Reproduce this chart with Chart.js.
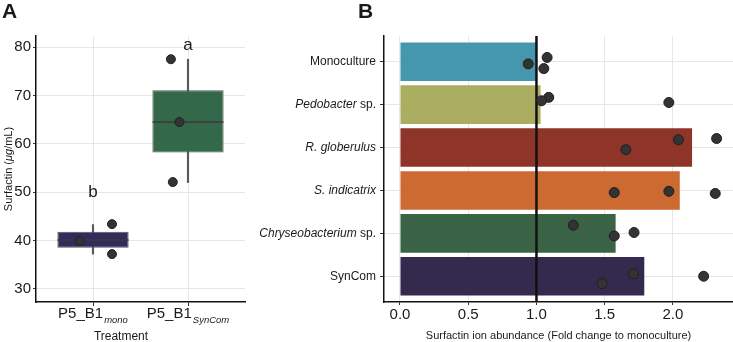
<!DOCTYPE html>
<html>
<head>
<meta charset="utf-8">
<script src="https://cdn.jsdelivr.net/npm/chart.js@4"></script>
<style>
  body { margin: 0; background: #fff; }
  #wrap { position: relative; width: 733px; height: 342px; }
  canvas { position: absolute; top: 0; }
  #chartA { left: 0; }
  #chartB { left: 250px; }
</style>
</head>
<body>
<div id="wrap">
  <canvas id="chartA" width="250" height="342"></canvas>
  <canvas id="chartB" width="483" height="342"></canvas>
</div>
<script>
// ---- panel A data (boxplot of surfactin, ug/mL) ----
const treatments = ['P5_B1', 'P5_B1'];
const treatmentSubs = ['mono', 'SynCom'];
const boxColors = ['#342a5c', '#33694a'];
const q1 = [38.5, 58.2];
const median = [40.1, 64.5];
const q3 = [41.8, 71.1];
const whiskerLow = [37.2, 52.0];
const whiskerHigh = [43.3, 77.5];
const monoPoints = [43.4, 37.2, 39.9];
const monoJitter = [0.2, 0.2, -0.14];
const syncomPoints = [77.5, 52.1, 64.5];
const syncomJitter = [-0.18, -0.16, -0.09];
const sigLetters = ['b', 'a'];
const sigHeights = [50.0, 80.4];
const yTicksA = [30, 40, 50, 60, 70, 80];

// ---- panel B data (fold change to monoculture) ----
const strains = [
  [['Monoculture', false]],
  [['Pedobacter', true], [' sp.', false]],
  [['R. globerulus', true]],
  [['S. indicatrix', true]],
  [['Chryseobacterium', true], [' sp.', false]],
  [['SynCom', false]]
];
const barColors = ['#4597ae', '#abae60', '#8e3428', '#cc6a31', '#3a6345', '#332a4d'];
const foldChange = [1.0, 1.03, 2.14, 2.05, 1.58, 1.79];
const replicateX = [
  [1.078, 0.94, 1.054],
  [1.09, 1.037, 1.97],
  [2.04, 2.32, 1.655],
  [1.57, 1.97, 2.31],
  [1.27, 1.57, 1.715],
  [1.48, 1.71, 2.225]
];
const replicateJitter = [
  [-0.10, 0.05, 0.16],
  [-0.17, -0.09, -0.05],
  [-0.18, -0.21, 0.05],
  [0.05, 0.02, 0.07],
  [-0.19, 0.06, -0.02],
  [0.17, -0.06, 0.0]
];
const xTicksB = [0, 0.5, 1.0, 1.5, 2.0];

const FONT = '"Liberation Sans", Arial, sans-serif';
const TXT = '#1a1a1a';
const GRID = '#e6e6e6';

function drawMixed(ctx, segs, x, y, size, align) {
  let total = 0;
  const widths = segs.map(function (s) {
    ctx.font = (s[1] ? 'italic ' : '') + size + 'px ' + FONT;
    const w = ctx.measureText(s[0]).width;
    total += w;
    return w;
  });
  let cx = align === 'right' ? x - total : x - total / 2;
  ctx.textAlign = 'left';
  segs.forEach(function (s, i) {
    ctx.font = (s[1] ? 'italic ' : '') + size + 'px ' + FONT;
    ctx.fillText(s[0], cx, y);
    cx += widths[i];
  });
}

function noPad(s) {
  s.paddingLeft = 0;
  s.paddingRight = 0;
  s.paddingTop = 0;
  s.paddingBottom = 0;
}

// ---------------- Panel A ----------------
const pointsA = [];
monoPoints.forEach(function (v, i) { pointsA.push({ x: 1 + monoJitter[i], y: v }); });
syncomPoints.forEach(function (v, i) { pointsA.push({ x: 2 + syncomJitter[i], y: v }); });

const panelAText = {
  id: 'panelAText',
  afterDraw: function (chart) {
    const ctx = chart.ctx;
    const xs = chart.scales.x;
    const ys = chart.scales.y;
    ctx.save();
    ctx.fillStyle = TXT;
    ctx.textBaseline = 'alphabetic';
    ctx.font = 'bold 21px ' + FONT;
    ctx.textAlign = 'left';
    ctx.fillText('A', 2, 18);

    treatments.forEach(function (t, i) {
      const px = xs.getPixelForValue(i + 1);
      ctx.font = '15px ' + FONT;
      const wm = ctx.measureText(t).width;
      ctx.font = 'italic 9.5px ' + FONT;
      const ws = ctx.measureText(treatmentSubs[i]).width;
      const start = px - (wm + ws + 1) / 2;
      ctx.textAlign = 'left';
      ctx.font = '15px ' + FONT;
      ctx.fillText(t, start, 318);
      ctx.font = 'italic 9.5px ' + FONT;
      ctx.fillText(treatmentSubs[i], start + wm + 1, 323);

      ctx.font = '17px ' + FONT;
      ctx.textAlign = 'center';
      ctx.textBaseline = 'middle';
      ctx.fillText(sigLetters[i], px, ys.getPixelForValue(sigHeights[i]));
      ctx.textBaseline = 'alphabetic';
    });

    ctx.font = '12px ' + FONT;
    ctx.textAlign = 'center';
    ctx.fillText('Treatment', 121, 340);

    ctx.translate(12, (chart.chartArea.top + chart.chartArea.bottom) / 2);
    ctx.rotate(-Math.PI / 2);
    drawMixed(ctx, [['Surfactin (', false], ['\u03bcg', true], ['/mL)', false]], 0, 0, 11, 'center');
    ctx.restore();
  }
};

new Chart(document.getElementById('chartA'), {
  type: 'bar',
  data: {
    datasets: [
      {
        type: 'scatter',
        data: pointsA,
        order: 0,
        pointRadius: 4.5,
        backgroundColor: '#333333',
        borderColor: '#222222',
        borderWidth: 1
      },
      {
        type: 'scatter',
        data: median.map(function (m, i) { return { x: i + 1, y: m }; }),
        order: 1,
        pointStyle: 'line',
        pointRadius: 35.5,
        borderColor: '#3a3a3a',
        borderWidth: 1.5
      },
      {
        data: q1.map(function (v, i) { return { x: i + 1, y: [v, q3[i]] }; }),
        order: 2,
        grouped: false,
        barPercentage: 0.75,
        categoryPercentage: 1,
        backgroundColor: boxColors,
        borderColor: '#555555',
        borderWidth: 1,
        borderSkipped: false
      },
      {
        data: whiskerLow.map(function (v, i) { return { x: i + 1, y: [v, whiskerHigh[i]] }; }),
        order: 3,
        barThickness: 1.5,
        backgroundColor: '#5a5a5a'
      }
    ]
  },
  options: {
    responsive: false,
    animation: false,
    events: [],
    layout: { autoPadding: false, padding: { top: 36, right: 5, left: 0, bottom: 0 } },
    plugins: { legend: { display: false }, tooltip: { enabled: false } },
    scales: {
      x: {
        type: 'linear',
        offset: false,
        min: 0.4,
        max: 2.6,
        afterBuildTicks: function (s) { s.ticks = treatments.map(function (_, i) { return { value: i + 1 }; }); },
        afterFit: function (s) { s.height = 40; noPad(s); },
        ticks: { display: false },
        grid: { color: GRID, tickColor: '#333', tickLength: 4, offset: false },
        border: { color: '#111', width: 1.5 }
      },
      y: {
        min: 27.3,
        max: 82.3,
        afterBuildTicks: function (s) { s.ticks = yTicksA.map(function (v) { return { value: v }; }); },
        afterFit: function (s) { s.width = 36; noPad(s); },
        ticks: { color: TXT, font: { family: FONT, size: 15 }, padding: 2 },
        grid: { color: GRID, tickColor: '#333', tickLength: 3 },
        border: { color: '#111', width: 1.5 }
      }
    }
  },
  plugins: [panelAText]
});

// ---------------- Panel B ----------------
const pointsB = [];
replicateX.forEach(function (row, i) {
  row.forEach(function (v, j) { pointsB.push({ x: v, y: i + 1 + replicateJitter[i][j] }); });
});

const panelBText = {
  id: 'panelBText',
  afterDraw: function (chart) {
    const ctx = chart.ctx;
    const ys = chart.scales.y;
    ctx.save();
    ctx.fillStyle = TXT;
    ctx.font = 'bold 21px ' + FONT;
    ctx.textAlign = 'left';
    ctx.textBaseline = 'alphabetic';
    ctx.fillText('B', 108, 18);

    ctx.textBaseline = 'middle';
    strains.forEach(function (segs, i) {
      drawMixed(ctx, segs, chart.chartArea.left - 8, ys.getPixelForValue(i + 1), 12, 'right');
    });

    ctx.textBaseline = 'alphabetic';
    ctx.font = '11px ' + FONT;
    ctx.textAlign = 'center';
    ctx.fillText('Surfactin ion abundance (Fold change to monoculture)',
      (chart.chartArea.left + chart.chartArea.right) / 2, 339);
    ctx.restore();
  }
};

new Chart(document.getElementById('chartB'), {
  type: 'bar',
  data: {
    datasets: [
      {
        type: 'scatter',
        indexAxis: 'x',
        data: pointsB,
        order: 0,
        pointRadius: 5,
        backgroundColor: '#333333',
        borderColor: '#1f1f1f',
        borderWidth: 1
      },
      {
        type: 'line',
        indexAxis: 'x',
        data: [{ x: 1, y: 0.4 }, { x: 1, y: 6.6 }],
        order: 1,
        borderColor: '#111111',
        borderWidth: 2.5,
        pointRadius: 0
      },
      {
        data: foldChange.map(function (v, i) { return { x: v, y: i + 1 }; }),
        order: 2,
        barPercentage: 0.9,
        categoryPercentage: 1,
        backgroundColor: barColors,
        borderWidth: 0
      }
    ]
  },
  options: {
    indexAxis: 'y',
    responsive: false,
    animation: false,
    events: [],
    layout: { autoPadding: false, padding: { top: 36, right: 0, left: 0, bottom: 0 } },
    plugins: { legend: { display: false }, tooltip: { enabled: false } },
    scales: {
      x: {
        type: 'linear',
        min: -0.117,
        max: 2.44,
        afterBuildTicks: function (s) { s.ticks = xTicksB.map(function (v) { return { value: v }; }); },
        afterFit: function (s) { s.height = 40; noPad(s); },
        ticks: {
          color: TXT,
          font: { family: FONT, size: 15 },
          padding: 1,
          callback: function (v) { return v.toFixed(1); }
        },
        grid: { color: GRID, tickColor: '#333', tickLength: 3 },
        border: { color: '#111', width: 1.5 }
      },
      y: {
        type: 'linear',
        offset: false,
        reverse: true,
        min: 0.4,
        max: 6.6,
        afterBuildTicks: function (s) { s.ticks = strains.map(function (_, i) { return { value: i + 1 }; }); },
        afterFit: function (s) { s.width = 134; noPad(s); },
        ticks: { display: false },
        grid: { color: GRID, tickColor: '#333', tickLength: 4, offset: false },
        border: { color: '#111', width: 1.5 }
      }
    }
  },
  plugins: [panelBText]
});
</script>
</body>
</html>
